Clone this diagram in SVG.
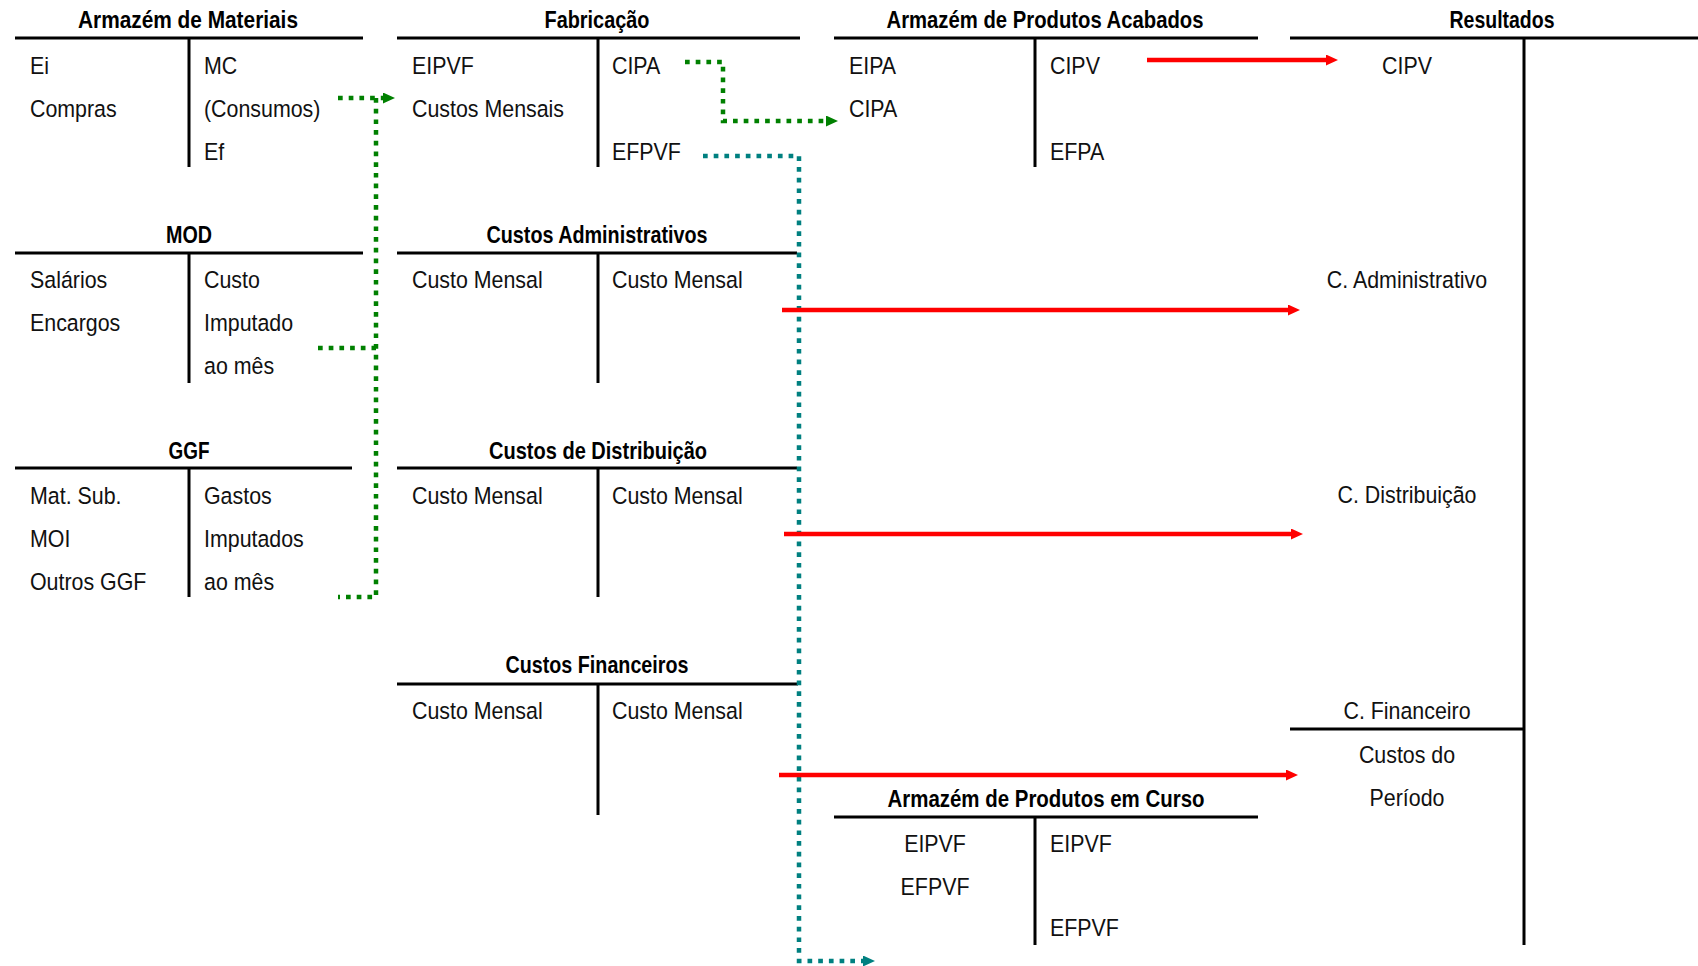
<svg xmlns="http://www.w3.org/2000/svg" width="1698" height="966" viewBox="0 0 1698 966">
  <style>
    .bg { fill: #ffffff; }
    .rule { stroke: #000000; stroke-width: 3; fill: none; }
    .title { font-family: "Liberation Sans", Arial, sans-serif; font-weight: bold; font-size: 24px; fill: #000000; text-anchor: middle; }
    .item { font-family: "Liberation Sans", Arial, sans-serif; font-size: 23.5px; fill: #111111; }
    .mid { text-anchor: middle; }
    .flow-green { stroke: #008000; stroke-width: 4.5; fill: none; stroke-dasharray: 4.7 6; }
    .flow-teal { stroke: #008080; stroke-width: 4.5; fill: none; stroke-dasharray: 4.7 6; }
    .flow-red { stroke: #ff0000; stroke-width: 4.5; fill: none; }
  </style>
  <defs>
    <marker id="arrow-green" markerUnits="userSpaceOnUse" markerWidth="12" markerHeight="11" refX="1" refY="5.5" orient="auto">
      <path d="M0,0 L12,5.5 L0,11 z" fill="#008000"/>
    </marker>
    <marker id="arrow-teal" markerUnits="userSpaceOnUse" markerWidth="12" markerHeight="11" refX="1" refY="5.5" orient="auto">
      <path d="M0,0 L12,5.5 L0,11 z" fill="#008080"/>
    </marker>
    <marker id="arrow-red" markerUnits="userSpaceOnUse" markerWidth="12" markerHeight="11" refX="1" refY="5.5" orient="auto">
      <path d="M0,0 L12,5.5 L0,11 z" fill="#ff0000"/>
    </marker>
  </defs>

  <rect class="bg" x="0" y="0" width="1698" height="966"/>

  <!-- Raw materials store (item columns are narrowed horizontally) -->
  <g id="armazem-materiais">
    <text class="title" x="188" y="28" textLength="220" lengthAdjust="spacingAndGlyphs">Armazém de Materiais</text>
    <path class="rule" d="M15 38 H363 M189 38 V167"/>
    <g transform="translate(30 0) scale(0.91 1)">
      <text class="item" x="0" y="74">Ei</text>
      <text class="item" x="0" y="117">Compras</text>
    </g>
    <g transform="translate(204 0) scale(0.91 1)">
      <text class="item" x="0" y="74">MC</text>
      <text class="item" x="0" y="117">(Consumos)</text>
      <text class="item" x="0" y="160">Ef</text>
    </g>
  </g>

  <!-- Direct labour -->
  <g id="mod">
    <text class="title" x="189" y="243" textLength="46" lengthAdjust="spacingAndGlyphs">MOD</text>
    <path class="rule" d="M15 253 H363 M189 253 V383"/>
    <g transform="translate(30 0) scale(0.91 1)">
      <text class="item" x="0" y="288">Salários</text>
      <text class="item" x="0" y="331">Encargos</text>
    </g>
    <g transform="translate(204 0) scale(0.91 1)">
      <text class="item" x="0" y="288">Custo</text>
      <text class="item" x="0" y="331">Imputado</text>
      <text class="item" x="0" y="374">ao mês</text>
    </g>
  </g>

  <!-- Overheads -->
  <g id="ggf">
    <text class="title" x="189" y="459" textLength="41" lengthAdjust="spacingAndGlyphs">GGF</text>
    <path class="rule" d="M15 468 H352 M189 468 V597"/>
    <g transform="translate(30 0) scale(0.91 1)">
      <text class="item" x="0" y="504">Mat. Sub.</text>
      <text class="item" x="0" y="547">MOI</text>
      <text class="item" x="0" y="590">Outros GGF</text>
    </g>
    <g transform="translate(204 0) scale(0.91 1)">
      <text class="item" x="0" y="504">Gastos</text>
      <text class="item" x="0" y="547">Imputados</text>
      <text class="item" x="0" y="590">ao mês</text>
    </g>
  </g>

  <!-- Manufacturing -->
  <g id="fabricacao">
    <text class="title" x="597" y="28" textLength="105" lengthAdjust="spacingAndGlyphs">Fabricação</text>
    <path class="rule" d="M397 38 H800 M598 38 V167"/>
    <g transform="translate(412 0) scale(0.91 1)">
      <text class="item" x="0" y="74">EIPVF</text>
      <text class="item" x="0" y="117">Custos Mensais</text>
    </g>
    <g transform="translate(612 0) scale(0.91 1)">
      <text class="item" x="0" y="74">CIPA</text>
      <text class="item" x="0" y="160">EFPVF</text>
    </g>
  </g>

  <!-- Administrative costs -->
  <g id="custos-administrativos">
    <text class="title" x="597" y="243" textLength="221" lengthAdjust="spacingAndGlyphs">Custos Administrativos</text>
    <path class="rule" d="M397 253 H797 M598 253 V383"/>
    <g transform="translate(412 0) scale(0.91 1)">
      <text class="item" x="0" y="288">Custo Mensal</text>
    </g>
    <g transform="translate(612 0) scale(0.91 1)">
      <text class="item" x="0" y="288">Custo Mensal</text>
    </g>
  </g>

  <!-- Distribution costs -->
  <g id="custos-distribuicao">
    <text class="title" x="598" y="459" textLength="218" lengthAdjust="spacingAndGlyphs">Custos de Distribuição</text>
    <path class="rule" d="M397 468 H797 M598 468 V597"/>
    <g transform="translate(412 0) scale(0.91 1)">
      <text class="item" x="0" y="504">Custo Mensal</text>
    </g>
    <g transform="translate(612 0) scale(0.91 1)">
      <text class="item" x="0" y="504">Custo Mensal</text>
    </g>
  </g>

  <!-- Financial costs -->
  <g id="custos-financeiros">
    <text class="title" x="597" y="673" textLength="183" lengthAdjust="spacingAndGlyphs">Custos Financeiros</text>
    <path class="rule" d="M397 684 H798 M598 684 V815"/>
    <g transform="translate(412 0) scale(0.91 1)">
      <text class="item" x="0" y="719">Custo Mensal</text>
    </g>
    <g transform="translate(612 0) scale(0.91 1)">
      <text class="item" x="0" y="719">Custo Mensal</text>
    </g>
  </g>

  <!-- Finished goods store -->
  <g id="armazem-produtos-acabados">
    <text class="title" x="1045" y="28" textLength="317" lengthAdjust="spacingAndGlyphs">Armazém de Produtos Acabados</text>
    <path class="rule" d="M834 38 H1258 M1035 38 V167"/>
    <g transform="translate(849 0) scale(0.91 1)">
      <text class="item" x="0" y="74">EIPA</text>
      <text class="item" x="0" y="117">CIPA</text>
    </g>
    <g transform="translate(1050 0) scale(0.91 1)">
      <text class="item" x="0" y="74">CIPV</text>
      <text class="item" x="0" y="160">EFPA</text>
    </g>
  </g>

  <!-- Work in progress store -->
  <g id="armazem-produtos-curso">
    <text class="title" x="1046" y="807" textLength="317" lengthAdjust="spacingAndGlyphs">Armazém de Produtos em Curso</text>
    <path class="rule" d="M834 817 H1258 M1035 817 V945"/>
    <g transform="translate(935 0) scale(0.91 1)">
      <text class="item mid" x="0" y="852">EIPVF</text>
      <text class="item mid" x="0" y="895">EFPVF</text>
    </g>
    <g transform="translate(1050 0) scale(0.91 1)">
      <text class="item" x="0" y="852">EIPVF</text>
      <text class="item" x="0" y="936">EFPVF</text>
    </g>
  </g>

  <!-- Income statement -->
  <g id="resultados">
    <text class="title" x="1502" y="28" textLength="105" lengthAdjust="spacingAndGlyphs">Resultados</text>
    <path class="rule" d="M1290 38 H1698 M1524 38 V945 M1290 729 H1524"/>
    <g transform="translate(1407 0) scale(0.91 1)">
      <text class="item mid" x="0" y="74">CIPV</text>
      <text class="item mid" x="0" y="288">C. Administrativo</text>
      <text class="item mid" x="0" y="503">C. Distribuição</text>
      <text class="item mid" x="0" y="719">C. Financeiro</text>
      <text class="item mid" x="0" y="763">Custos do</text>
      <text class="item mid" x="0" y="806">Período</text>
    </g>
  </g>

  <!-- Flows between accounts -->
  <g id="connectors">
    <path class="flow-green" d="M338 98 H384" marker-end="url(#arrow-green)"/>
    <path class="flow-green" d="M376 98 V597 H338"/>
    <path class="flow-green" d="M318 348 H376"/>
    <path class="flow-green" d="M685 62 H723 V121 H827" marker-end="url(#arrow-green)"/>
    <path class="flow-teal" d="M703 156 H799 V961 H864" marker-end="url(#arrow-teal)"/>
    <path class="flow-red" d="M1147 60 H1327" marker-end="url(#arrow-red)"/>
    <path class="flow-red" d="M782 310 H1289" marker-end="url(#arrow-red)"/>
    <path class="flow-red" d="M784 534 H1292" marker-end="url(#arrow-red)"/>
    <path class="flow-red" d="M779 775 H1287" marker-end="url(#arrow-red)"/>
  </g>
</svg>
